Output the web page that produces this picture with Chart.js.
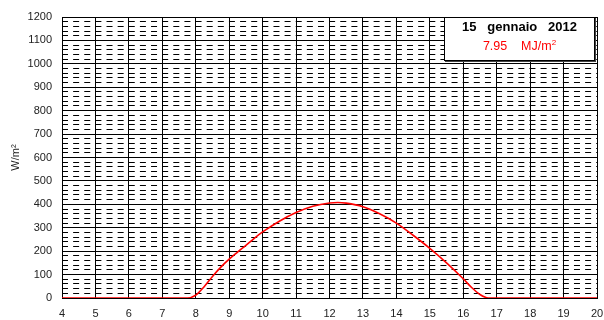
<!DOCTYPE html>
<html>
<head>
<meta charset="utf-8">
<script src="https://cdn.jsdelivr.net/npm/chart.js@4/dist/chart.umd.min.js"></script>
<style>
  body { margin: 0; background: #fff; }
  #wrap { position: relative; width: 604px; height: 320px; }
  #box {
    position: absolute; left: 444px; top: 17px; width: 149px; height: 42px;
    background: #fff; border: 1px solid #000; box-shadow: 1px 1px 0 #444;
    font-family: "Liberation Sans", Arial, sans-serif; text-align: center;
    white-space: pre;
  }
  #box .d { font-weight: bold; font-size: 13px; line-height: 15px; color: #000; margin-top: 1px; }
  #box .e { font-size: 12.5px; line-height: 15px; color: #ff0000; margin-top: 5px; }
  #box sup { font-size: 8px; line-height: 0; vertical-align: 5px; }
</style>
</head>
<body>
<div id="wrap">
  <canvas id="chart" width="604" height="320"></canvas>
  <div id="box"><div class="d">15   gennaio   2012</div><div class="e">7.95    MJ/m<sup>2</sup></div></div>
</div>
<script>
// ================= DATA =================
const hours = [4, 5, 6, 7, 7.5, 7.75, 8, 8.25, 8.5, 8.75, 9, 9.25, 9.5, 9.75, 10, 10.5, 11, 11.5, 12, 12.25, 12.5, 13, 13.5, 14, 14.5, 15, 15.5, 16, 16.25, 16.5, 16.75, 17, 18, 19, 20];
const irradiance = [0, 0, 0, 0, 0, 0, 12, 48, 92, 132, 166, 196, 225, 255, 282, 328, 365, 392, 406, 408, 405, 390, 360, 320, 268, 212, 150, 82, 45, 15, 0, 0, 0, 0, 0];
const yTicks = [0, 100, 200, 300, 400, 500, 600, 700, 800, 900, 1000, 1100, 1200];
const xTicks = [4, 5, 6, 7, 8, 9, 10, 11, 12, 13, 14, 15, 16, 17, 18, 19, 20];

const font = { family: '"Liberation Sans", Arial, sans-serif', size: 11 };

// ================= CHART =================
new Chart(document.getElementById('chart'), {
  type: 'line',
  data: {
    datasets: [{
      data: hours.map((h, i) => ({ x: h, y: irradiance[i] })),
      borderColor: '#ff0000',
      borderWidth: 1.6,
      pointRadius: 0,
      cubicInterpolationMode: 'monotone',
      fill: false
    }]
  },
  options: {
    responsive: false,
    animation: false,
    layout: { padding: { top: 17, right: 7, left: 0, bottom: 0 } },
    plugins: { legend: { display: false }, tooltip: { enabled: false } },
    scales: {
      x: {
        type: 'linear',
        min: xTicks[0],
        max: xTicks[xTicks.length - 1],
        afterBuildTicks: s => { s.ticks = xTicks.map(v => ({ value: v })); },
        afterFit: s => { s.height = 22; s.paddingLeft = 0; s.paddingRight = 0; },
        grid: { color: '#000', lineWidth: 1, drawTicks: false },
        border: { color: '#000' },
        ticks: { color: '#222', font: font, padding: 9, maxRotation: 0, callback: v => String(v) }
      },
      yMinor: {
        position: 'left',
        min: 0,
        max: 1200,
        ticks: { stepSize: 20, display: false },
        afterFit: s => { s.width = 0; s.paddingTop = 0; s.paddingBottom = 0; },
        grid: { color: '#000', lineWidth: 1, drawTicks: false },
        border: { display: false, dash: [6, 5.13] }
      },
      y: {
        position: 'left',
        min: 0,
        max: 1200,
        afterBuildTicks: s => { s.ticks = yTicks.map(v => ({ value: v })); },
        afterFit: s => { s.width = 62; s.paddingTop = 0; s.paddingBottom = 0; },
        grid: { color: '#000', lineWidth: 1, drawTicks: false },
        border: { color: '#000' },
        ticks: { color: '#222', font: font, padding: 10, callback: v => String(v) },
        title: { display: true, text: 'W/m²', color: '#222', font: font, padding: { top: 9, bottom: 0 } }
      }
    }
  }
});
</script>
</body>
</html>
